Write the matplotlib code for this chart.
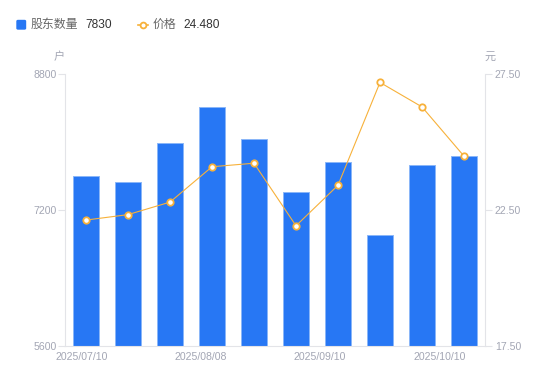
import matplotlib.pyplot as plt
from matplotlib.patches import FancyBboxPatch
from matplotlib.lines import Line2D

# Data
dates = ['2025/07/10', '2025/07/21', '2025/07/31', '2025/08/08', '2025/08/20',
         '2025/08/29', '2025/09/10', '2025/09/19', '2025/09/30', '2025/10/10']
holders = [7600, 7533, 7989, 8412, 8032, 7412, 7769, 6903, 7734, 7830]
price = [22.13, 22.33, 22.79, 24.09, 24.22, 21.92, 23.41, 27.19, 26.29, 24.48]
shown_labels = ['2025/07/10', '2025/08/08', '2025/09/10', '2025/10/10']
label_pos = [-0.1, 2.74, 5.57, 8.43]

W, H = 550, 381
fam = ['Liberation Sans', 'Noto Sans CJK SC', 'DejaVu Sans']
plt.rcParams['font.family'] = fam

grey = '#a3a6b4'
axis_c = '#e3e4e8'
blue = '#2777f4'
orange = '#f7b13a'

fig = plt.figure(figsize=(W / 100, H / 100), dpi=100)
ax = fig.add_axes([65 / W, 1 - 346 / H, 420 / W, 272 / H])
ax2 = ax.twinx()

x = list(range(len(dates)))
ax.bar(x, holders, width=0.6, color=blue, edgecolor='#8ab6f8', linewidth=0.7, zorder=2)
ax2.plot(x, price, color=orange, linewidth=0.8, marker='o', markersize=4.6,
         markerfacecolor='white', markeredgecolor=orange, markeredgewidth=1.3, zorder=3)

ax.set_xlim(-0.5, len(dates) - 0.5)
ax.set_ylim(5600, 8800)
ax.set_yticks([5600, 7200, 8800])
ax2.set_ylim(17.5, 27.5)
ax2.set_yticks([17.5, 22.5, 27.5])
ax2.set_yticklabels(['%.2f' % v for v in [17.5, 22.5, 27.5]])
ax.set_xticks(label_pos)
ax.set_xticklabels(shown_labels)

for a in (ax, ax2):
    for s in a.spines.values():
        s.set_visible(False)
ax.spines['left'].set_visible(True)
ax.spines['left'].set_color(axis_c)
ax.spines['bottom'].set_visible(True)
ax.spines['bottom'].set_color(axis_c)
ax2.spines['right'].set_visible(True)
ax2.spines['right'].set_color(axis_c)

ax.tick_params(axis='y', colors=axis_c, labelcolor=grey, labelsize=7.6, length=5, width=0.8, pad=1)
ax2.tick_params(axis='y', colors=axis_c, labelcolor=grey, labelsize=7.6, length=5, width=0.8, pad=2)
ax.tick_params(axis='x', length=0, labelcolor=grey, labelsize=7.6, pad=4)

# unit labels
fig.text(59 / W, 1 - 57 / H, '户', color=grey, fontsize=8, ha='center', va='center')
fig.text(490 / W, 1 - 57 / H, '元', color=grey, fontsize=8, ha='center', va='center')

# legend
fig.patches.append(FancyBboxPatch((17 / W, 1 - 29 / H), 8.5 / W, 8.5 / H,
                                  boxstyle='round,pad=0,rounding_size=0.002',
                                  transform=fig.transFigure, color=blue))
fig.text(31 / W, 1 - 25 / H, '股东数量', color='#666666', fontsize=8.6, va='center')
fig.text(85 / W, 1 - 25 / H, '%d' % holders[-1], color='#333333', fontsize=8.6, va='center')
fig.add_artist(Line2D([138 / W, 148 / W], [1 - 25 / H, 1 - 25 / H], transform=fig.transFigure,
                      color=orange, lw=1.2))
fig.add_artist(Line2D([143 / W], [1 - 25 / H], transform=fig.transFigure, marker='o',
                      markersize=4.2, markerfacecolor='white', markeredgecolor=orange,
                      markeredgewidth=1.3))
fig.text(153 / W, 1 - 25 / H, '价格', color='#666666', fontsize=8.6, va='center')
fig.text(183 / W, 1 - 25 / H, '%.3f' % price[-1], color='#333333', fontsize=8.6, va='center')

fig.savefig('out.png', dpi=100)
